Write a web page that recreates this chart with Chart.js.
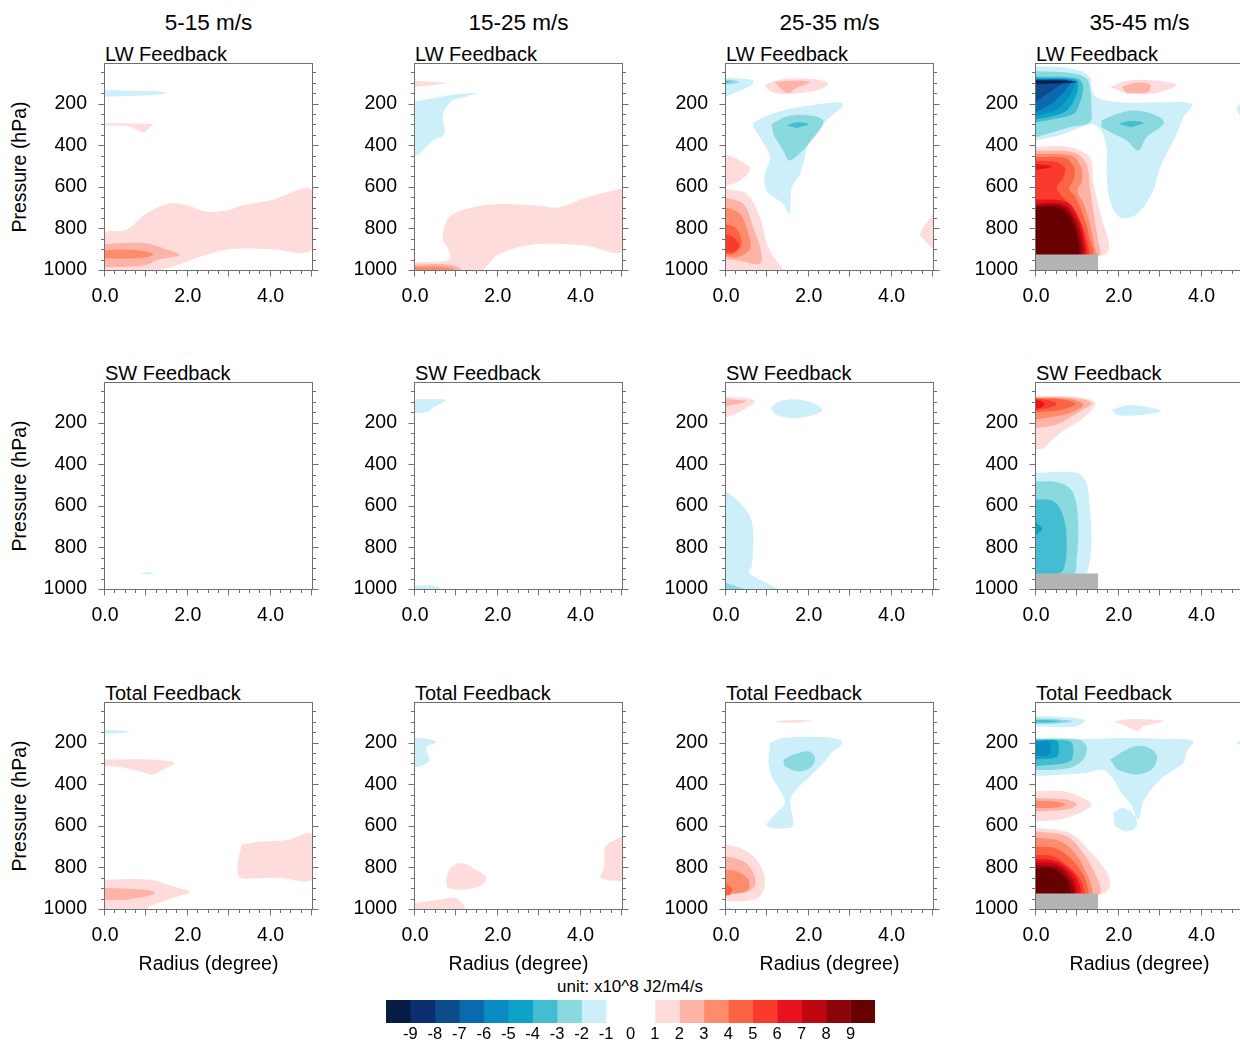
<!DOCTYPE html>
<html><head><meta charset="utf-8">
<script src="https://cdn.jsdelivr.net/npm/chart.js@4.4.1/dist/chart.umd.min.js"></script>
<style>
html,body{margin:0;padding:0;background:#fff;}
#fig{position:relative;width:1240px;height:1042px;overflow:hidden;font-family:'Liberation Sans',Arial,Helvetica,sans-serif;color:#000;}
.t{position:absolute;white-space:nowrap;line-height:1;}
canvas{position:absolute;}
</style></head><body><div id="fig"></div>
<script>
// ---------- categories / labels ----------
const speedBins = ['5-15 m/s', '15-25 m/s', '25-35 m/s', '35-45 m/s'];
const feedbackTypes = ['LW Feedback', 'SW Feedback', 'Total Feedback'];
const xAxisTitle = 'Radius (degree)';
const yAxisTitle = 'Pressure (hPa)';
const unitText = 'unit: x10^8 J2/m4/s';

// ---------- tick values ----------
const radiusTickLabels = [0, 2, 4];
const radiusMajorTicks = [0, 1, 2, 3, 4, 5];
const radiusMinorTicks = [0.25,0.5,0.75,1.25,1.5,1.75,2.25,2.5,2.75,3.25,3.5,3.75,4.25,4.5,4.75];
const pressureTickLabels = [200, 400, 600, 800, 1000];
const pressureMinorTicks = [50,100,150,250,300,350,450,500,550,650,700,750,850,900,950];

// ---------- colour bar ----------
const cbLevels = [-9,-8,-7,-6,-5,-4,-3,-2,-1,0,1,2,3,4,5,6,7,8,9];
const cbBounds = [-10,-9,-8,-7,-6,-5,-4,-3,-2,-1,0,1,2,3,4,5,6,7,8,9,10];
const cbColors = ['#061c45','#0b2f6e','#0a4c8c','#0b69ad','#0a8cc2','#0ca3c6','#44bcd2','#8ad9de','#cdeffa','#ffffff',
                  '#ffffff','#ffdcdc','#ffb3a6','#fd8c6c','#fc6343','#fa3a2c','#e8121e','#bd0812','#8c050b','#670000'];

// ---------- contour regions: [radius (deg), pressure (hPa)]; lvl = threshold exceeded ----------
const lw_5_15 = [
 {lvl:-1, pts:[[0,135],[0.6,138],[1.2,141],[1.5,148],[1.2,158],[0.6,164],[0,167]]},
 {lvl:1, pts:[[0,295],[0.6,296],[1.16,300],[1.1,312],[0.95,338],[0.8,330],[0.6,310],[0,305]]},
 {lvl:1, pts:[[0,1000],[0,824],[0.5,808],[1.0,728],[1.56,680],[1.96,688],[2.45,720],[3.0,712],[3.25,693],[4.0,665],[5,615],[5,900],[4.0,900],[3.0,900],[2.3,936],[1.64,984],[1.3,1000]]},
 {lvl:2, pts:[[0,875],[0.5,870],[1.0,872],[1.4,895],[1.8,928],[1.3,950],[1.0,975],[0.5,985],[0,985]]},
 {lvl:3, pts:[[0,905],[0.5,902],[0.95,910],[1.16,925],[0.95,940],[0.5,945],[0,943]]}
];
const lw_15_25 = [
 {lvl:1, pts:[[0,90],[0.4,95],[0.75,102],[0.4,112],[0,120]]},
 {lvl:-1, pts:[[0,190],[0.5,172],[1.0,155],[1.47,150],[1.2,168],[0.9,185],[0.67,258],[0.71,346],[0.43,378],[0.1,442],[0,450]]},
 {lvl:1, pts:[[0,1000],[0,965],[0.6,960],[0.85,945],[0.8,900],[0.67,843],[0.83,747],[1.23,707],[2.04,683],[3.0,691],[3.48,699],[4.13,651],[4.77,619],[5,616],[5,907],[4.13,883],[3.0,875],[2.04,923],[1.65,1000]]},
 {lvl:2, pts:[[0,975],[0.7,972],[1.05,985],[1.1,1000],[0,1000]]},
 {lvl:3, pts:[[0,985],[0.6,984],[0.9,992],[0.95,1000],[0,1000]]}
];
const lw_25_35 = [
 {lvl:-1, pts:[[0,77],[0.35,80],[0.66,90],[0.62,110],[0.34,138],[0,167]]},
 {lvl:-2, pts:[[0,84],[0.25,90],[0.3,96],[0.15,106],[0,108]]},
 {lvl:-3, pts:[[0,90],[0.12,94],[0,100]]},
 {lvl:1, pts:[[0.94,110],[1.3,86],[1.9,80],[2.47,100],[2.3,130],[1.7,152],[1.2,150],[1.0,130]]},
 {lvl:2, pts:[[1.18,95],[1.6,90],[2.03,96],[1.7,125],[1.5,150],[1.3,125]]},
 {lvl:-1, pts:[[0.66,290],[1.22,242],[2.03,210],[2.75,194],[2.83,210],[2.43,282],[2.03,378],[1.79,538],[1.59,603],[1.53,731],[1.38,683],[0.98,619],[0.94,538],[1.06,458],[0.82,362],[0.66,314]]},
 {lvl:-2, pts:[[1.1,298],[1.47,262],[2.03,257],[2.35,282],[2.19,346],[1.55,474],[1.38,426],[1.14,346]]},
 {lvl:-3, pts:[[1.47,306],[1.71,290],[1.99,298],[1.71,318]]},
 {lvl:1, pts:[[0,443],[0.34,475],[0.58,515],[0.34,571],[0,595]]},
 {lvl:1, pts:[[0,611],[0.5,635],[0.82,747],[1.02,891],[1.3,979],[1.38,1000],[0,1000]]},
 {lvl:2, pts:[[0,651],[0.42,683],[0.66,795],[0.86,923],[0.82,971],[0.34,955],[0,947]]},
 {lvl:3, pts:[[0,699],[0.34,731],[0.54,827],[0.58,899],[0.26,939],[0,935]]},
 {lvl:4, pts:[[0,779],[0.26,803],[0.38,875],[0.18,923],[0,923]]},
 {lvl:5, pts:[[0,827],[0.18,843],[0.32,883],[0.18,915],[0,915]]},
 {lvl:1, pts:[[5,731],[4.69,827],[4.81,859],[5,899]]}
];
const lw_35_45 = [
 {lvl:-1, pts:[[0,22],[0.6,26],[1.1,45],[1.32,80],[1.34,122],[1.47,170],[2.03,194],[3.0,194],[3.76,202],[3.56,266],[3.4,346],[3.0,506],[2.83,618],[2.44,731],[2.03,747],[1.79,667],[1.71,540],[1.71,426],[1.58,330],[1.34,300],[0.66,346],[0,378]]},
 {lvl:-1, pts:[[5,195],[4.85,215],[4.9,250],[5,270]]},
 {lvl:-2, pts:[[0,45],[0.9,55],[1.22,80],[1.3,120],[1.34,218],[1.3,290],[0.82,314],[0,362]]},
 {lvl:-2, pts:[[1.58,282],[1.95,250],[2.43,234],[3.0,266],[3.08,298],[2.67,362],[2.47,426],[2.19,378],[1.79,338],[1.58,314]]},
 {lvl:-3, pts:[[2.0,298],[2.25,284],[2.6,292],[2.3,314]]},
 {lvl:-3, pts:[[0,70],[1.0,80],[1.14,120],[1.05,200],[0.9,250],[0.4,275],[0,290]]},
 {lvl:-4, pts:[[0,78],[0.95,86],[1.02,120],[0.9,190],[0.7,240],[0.3,265],[0,275]]},
 {lvl:-5, pts:[[0,82],[0.9,88],[0.92,120],[0.75,180],[0.5,230],[0,260]]},
 {lvl:-6, pts:[[0,84],[0.85,88],[0.8,115],[0.55,170],[0.3,210],[0,240]]},
 {lvl:-7, pts:[[0,86],[0.8,90],[0.6,110],[0.3,150],[0,190]]},
 {lvl:-8, pts:[[0,88],[0.7,90],[1.0,96],[0.6,104],[0,108]]},
 {lvl:-9, pts:[[0,90],[0.5,92],[0.8,96],[0.5,100],[0,102]]},
 {lvl:1, pts:[[1.79,120],[2.2,90],[2.8,88],[3.4,110],[2.9,150],[2.2,154]]},
 {lvl:2, pts:[[2.07,120],[2.4,100],[2.75,108],[2.7,145],[2.2,150]]},
 {lvl:1, pts:[[0,407],[0.82,410],[1.3,458],[1.38,570],[1.58,747],[1.75,859],[1.75,907],[1.6,930],[0,930]]},
 {lvl:2, pts:[[0,426],[0.9,434],[1.22,490],[1.3,602],[1.42,763],[1.5,859],[1.52,930],[0,930]]},
 {lvl:3, pts:[[0,442],[0.85,450],[1.1,510],[1.1,580],[1.0,620],[1.15,680],[1.3,780],[1.42,891],[1.45,930],[0,930]]},
 {lvl:4, pts:[[0,458],[0.7,462],[0.92,510],[0.9,570],[0.8,610],[0.95,650],[1.15,740],[1.3,850],[1.35,930],[0,930]]},
 {lvl:5, pts:[[0,475],[0.5,482],[0.7,510],[0.65,560],[0.5,600],[0.6,640],[0.9,700],[1.1,780],[1.25,870],[1.25,930],[0,930]]},
 {lvl:6, pts:[[0,490],[0.4,503],[0,520]]},
 {lvl:6, pts:[[0,660],[0.75,675],[1.04,760],[1.18,860],[1.18,930],[0,930]]},
 {lvl:7, pts:[[0,680],[0.68,686],[0.98,760],[1.12,850],[1.12,930],[0,930]]},
 {lvl:8, pts:[[0,690],[0.62,694],[0.92,760],[1.06,850],[1.06,930],[0,930]]},
 {lvl:9, pts:[[0,699],[0.55,702],[0.85,760],[1.0,850],[1.0,930],[0,930]]}
];
const sw_5_15 = [
 {lvl:-1, pts:[[0.85,925],[1.0,919],[1.2,924],[1.0,930]]}
];
const sw_15_25 = [
 {lvl:-1, pts:[[0,88],[0.4,88],[0.75,92],[0.45,128],[0.3,148],[0,155]]},
 {lvl:-1, pts:[[0,985],[0.35,982],[0.6,995],[0.6,1000],[0,1000]]}
];
const sw_25_35 = [
 {lvl:1, pts:[[0,77],[0.5,82],[0.7,98],[0.5,130],[0,178]]},
 {lvl:2, pts:[[0,87],[0.5,98],[0,122]]},
 {lvl:-1, pts:[[1.08,130],[1.3,98],[1.79,90],[2.19,114],[2.33,141],[2.0,170],[1.53,178],[1.19,162]]},
 {lvl:-1, pts:[[0,530],[0.26,571],[0.58,651],[0.66,763],[0.62,891],[0.56,923],[0.98,971],[1.22,1000],[0,1000]]},
 {lvl:-2, pts:[[0,971],[0.42,1000],[0,1000]]}
];
const sw_35_45 = [
 {lvl:1, pts:[[0,74],[0.98,77],[1.43,106],[1.14,178],[0.58,250],[0.18,322],[0,330]]},
 {lvl:2, pts:[[0,77],[0.9,82],[1.35,106],[1.06,146],[0.5,210],[0,226]]},
 {lvl:3, pts:[[0,82],[0.82,87],[1.14,114],[0.82,154],[0,186]]},
 {lvl:4, pts:[[0,84],[0.6,88],[0.95,110],[0.6,140],[0,150]]},
 {lvl:5, pts:[[0,86],[0.35,95],[0.5,110],[0.3,130],[0,140]]},
 {lvl:6, pts:[[0,90],[0.15,100],[0.2,115],[0.1,130],[0,132]]},
 {lvl:-1, pts:[[1.83,138],[2.19,118],[2.59,122],[3.03,146],[2.59,162],[2.11,167],[1.91,160]]},
 {lvl:-1, pts:[[0,442],[0.98,442],[1.22,490],[1.3,618],[1.34,779],[1.26,907],[1.18,930],[0,930]]},
 {lvl:-2, pts:[[0,482],[0.58,490],[0.9,538],[1.02,699],[0.98,859],[0.9,930],[0,930]]},
 {lvl:-3, pts:[[0,570],[0.42,578],[0.66,651],[0.74,779],[0.66,907],[0.42,930],[0,930]]},
 {lvl:-4, pts:[[0,680],[0.15,710],[0,740]]}
];
const tot_5_15 = [
 {lvl:-1, pts:[[0,140],[0.3,142],[0.6,148],[0.3,155],[0,157]]},
 {lvl:1, pts:[[0,282],[1.08,282],[1.68,298],[1.4,330],[1.16,354],[0.84,338],[0.35,317],[0,314]]},
 {lvl:1, pts:[[3.3,690],[3.8,676],[4.4,668],[5,640],[5,856],[4.2,850],[3.6,852],[3.25,848],[3.2,780]]},
 {lvl:1, pts:[[0,859],[1.08,859],[1.64,891],[2.05,920],[1.64,947],[1.08,987],[1.0,1000],[0,1000]]},
 {lvl:2, pts:[[0,899],[1.0,907],[1.2,923],[1.0,939],[0.5,955],[0,955]]}
];
const tot_15_25 = [
 {lvl:-1, pts:[[0,178],[0.3,183],[0.51,199],[0.27,226],[0.35,282],[0.18,311],[0,317]]},
 {lvl:1, pts:[[0.75,859],[0.83,811],[1.11,779],[1.47,811],[1.73,851],[1.55,891],[1.15,907],[0.78,899]]},
 {lvl:1, pts:[[0,971],[0.59,955],[0.99,947],[1.19,1000],[0,1000]]},
 {lvl:1, pts:[[5,651],[4.61,699],[4.57,795],[4.49,851],[5,867]]}
];
const tot_25_35 = [
 {lvl:1, pts:[[1.18,98],[1.6,92],[2.07,95],[1.6,105],[1.2,103]]},
 {lvl:-1, pts:[[1.06,202],[1.38,178],[2.27,173],[2.75,186],[2.79,210],[2.59,242],[2.35,298],[2.03,362],[1.63,442],[1.55,490],[1.63,586],[1.55,610],[0.98,602],[1.14,554],[1.42,490],[1.34,442],[1.1,362],[1.02,298]]},
 {lvl:-2, pts:[[1.38,282],[1.63,258],[1.99,242],[2.15,274],[2.03,322],[1.71,338],[1.42,314]]},
 {lvl:1, pts:[[0,691],[0.34,707],[0.74,763],[0.94,859],[0.82,939],[0.42,963],[0,963]]},
 {lvl:2, pts:[[0,747],[0.42,771],[0.66,827],[0.7,891],[0.42,923],[0,931]]},
 {lvl:3, pts:[[0,811],[0.26,819],[0.54,859],[0.54,907],[0.26,923],[0,923]]},
 {lvl:4, pts:[[0,880],[0.15,900],[0.1,930],[0,935]]},
 {lvl:-1, pts:[[0,992],[0.1,995],[0.15,1000],[0,1000]]}
];
const tot_35_45 = [
 {lvl:-1, pts:[[0,74],[0.66,77],[1.18,93],[0.98,122],[0.42,125],[0,122]]},
 {lvl:-2, pts:[[0,85],[0.5,88],[0.9,98],[0.5,108],[0,110]]},
 {lvl:-3, pts:[[0,92],[0.4,94],[0.6,98],[0.4,102],[0,104]]},
 {lvl:1, pts:[[1.87,98],[2.35,87],[3.08,98],[2.59,122],[2.47,146],[2.19,122]]},
 {lvl:-1, pts:[[0,178],[1.22,183],[2.03,178],[3.16,183],[3.8,194],[3.64,242],[3.56,298],[3.0,378],[2.6,480],[2.47,570],[2.3,500],[2.05,440],[1.85,370],[1.6,330],[1.22,346],[0.66,354],[0,362]]},
 {lvl:-1, pts:[[1.87,538],[2.11,514],[2.39,554],[2.43,602],[2.19,627],[1.91,602]]},
 {lvl:-1, pts:[[5,190],[4.85,200],[5,215]]},
 {lvl:-2, pts:[[0,183],[1.02,186],[1.22,218],[1.14,282],[0.82,322],[0,333]]},
 {lvl:-2, pts:[[1.79,282],[2.27,226],[2.63,218],[2.91,258],[2.83,322],[2.43,354],[1.95,330]]},
 {lvl:-3, pts:[[0,186],[0.82,194],[0.9,234],[0.82,290],[0,314]]},
 {lvl:-4, pts:[[0,190],[0.5,192],[0.55,230],[0.5,270],[0,280]]},
 {lvl:-5, pts:[[0,195],[0.3,198],[0.35,230],[0.3,260],[0,265]]},
 {lvl:1, pts:[[0,434],[0.66,434],[1.14,466],[1.34,498],[1.06,538],[0.58,570],[0,578]]},
 {lvl:2, pts:[[0,466],[0.74,474],[0.98,498],[0.74,522],[0,530]]},
 {lvl:3, pts:[[0,480],[0.5,485],[0.7,498],[0.5,512],[0,515]]},
 {lvl:1, pts:[[0,610],[0.82,635],[1.34,731],[1.67,811],[1.79,875],[1.71,915],[1.55,930],[0,930]]},
 {lvl:2, pts:[[0,626],[0.74,650],[1.14,731],[1.42,827],[1.55,891],[1.52,930],[0,930]]},
 {lvl:3, pts:[[0,658],[0.58,674],[0.94,731],[1.22,827],[1.34,891],[1.34,930],[0,930]]},
 {lvl:4, pts:[[0,700],[0.5,710],[0.85,760],[1.15,840],[1.25,900],[1.25,930],[0,930]]},
 {lvl:5, pts:[[0,740],[0.4,745],[0.75,790],[1.05,850],[1.15,900],[1.15,930],[0,930]]},
 {lvl:6, pts:[[0,760],[0.5,770],[0.8,810],[1.0,860],[1.05,930],[0,930]]},
 {lvl:7, pts:[[0,775],[0.5,785],[0.8,830],[0.95,880],[0.95,930],[0,930]]},
 {lvl:8, pts:[[0,790],[0.5,800],[0.75,840],[0.9,890],[0.9,930],[0,930]]},
 {lvl:9, pts:[[0,800],[0.45,810],[0.7,850],[0.82,900],[0.8,930],[0,930]]}
];
// missing-data (below-surface) box in the strongest-wind column
const terrainMask = [[0,925],[1.5,925],[1.5,1000],[0,1000]];
const maskColor = '#b4b4b4';

const panelData = [
  [lw_5_15, lw_15_25, lw_25_35, lw_35_45],
  [sw_5_15, sw_15_25, sw_25_35, sw_35_45],
  [tot_5_15, tot_15_25, tot_25_35, tot_35_45]
];
const maskedColumn = 3;

// ---------- layout ----------
const colLeft = [105, 415, 726, 1036];
const rowTop = [64, 383, 703];
const PW = 207, PH = 206;
const AX_W = 72, AX_H = 44, PAD_T = 12, PAD_R = 14;
const FONT = "'Liberation Sans', Arial, Helvetica, sans-serif";

Chart.defaults.font.family = FONT;
Chart.defaults.color = '#000';

const fig = document.getElementById('fig');
function addText(txt, x, y, size, opts = {}) {
  const d = document.createElement('div');
  d.className = 't';
  d.textContent = txt;
  d.style.fontSize = size + 'px';
  d.style.left = x + 'px';
  d.style.top = y + 'px';
  let tf = opts.align === 'left' ? 'translate(0,-50%)' : 'translate(-50%,-50%)';
  if (opts.rotate) tf += ' rotate(-90deg)';
  d.style.transform = tf;
  fig.appendChild(d);
}

function levelColor(l) { return l > 0 ? cbColors[10 + l] : cbColors[9 + l]; }

const frameTicks = {
  id: 'frameTicks',
  afterDraw(chart) {
    const {ctx, chartArea: a, scales: {x, y}} = chart;
    ctx.save();
    ctx.strokeStyle = '#707070';
    ctx.lineWidth = 1;
    ctx.strokeRect(a.left - 0.5, a.top - 0.5, a.right - a.left + 1, a.bottom - a.top + 1);
    ctx.beginPath();
    const hy = (v, len) => {
      const py = Math.round(y.getPixelForValue(v)) + 0.5;
      ctx.moveTo(a.left - 0.5, py); ctx.lineTo(a.left - 0.5 - len, py);
      ctx.moveTo(a.right + 0.5, py); ctx.lineTo(a.right + 0.5 + len, py);
    };
    const vx = (v, len) => {
      const px = Math.round(x.getPixelForValue(v)) - 0.5;
      ctx.moveTo(px, a.bottom + 0.5); ctx.lineTo(px, a.bottom + 0.5 + len);
    };
    pressureTickLabels.forEach(v => hy(v, 6));
    pressureMinorTicks.forEach(v => hy(v, 3.5));
    radiusMajorTicks.forEach(v => vx(v, 6));
    radiusMinorTicks.forEach(v => vx(v, 3.5));
    ctx.stroke();
    ctx.restore();
  }
};

function makePanel(row, col) {
  const L = colLeft[col], T = rowTop[row];
  const cv = document.createElement('canvas');
  const W = AX_W + PW + PAD_R, H = PAD_T + PH + AX_H;
  cv.width = W; cv.height = H;
  cv.style.left = (L - AX_W) + 'px';
  cv.style.top = (T - PAD_T) + 'px';
  fig.appendChild(cv);
  const regions = panelData[row][col].map((c, i) => ({...c, i}))
    .sort((a, b) => Math.abs(a.lvl) - Math.abs(b.lvl) || a.i - b.i);
  const datasets = regions.map((c, k) => ({
    data: c.pts.map(([r, p]) => ({x: r, y: p})),
    showLine: true, fill: 'shape', tension: 0.35,
    backgroundColor: levelColor(c.lvl), borderColor: 'rgba(0,0,0,0)', borderWidth: 0,
    pointRadius: 0, order: 1000 - k
  }));
  if (col === maskedColumn) {
    datasets.push({
      data: terrainMask.map(([r, p]) => ({x: r, y: p})),
      showLine: true, fill: 'shape', tension: 0,
      backgroundColor: maskColor, borderColor: 'rgba(0,0,0,0)', borderWidth: 0,
      pointRadius: 0, order: -1
    });
  }
  new Chart(cv, {
    type: 'scatter',
    data: {datasets},
    options: {
      responsive: false, animation: false, events: [],
      layout: {padding: {left: 0, top: PAD_T, right: PAD_R, bottom: 0}},
      plugins: {legend: {display: false}, tooltip: {enabled: false}, title: {display: false}},
      scales: {
        x: {
          type: 'linear', min: 0, max: 5,
          afterBuildTicks: s => { s.ticks = radiusTickLabels.map(v => ({value: v})); },
          afterFit: s => { s.height = AX_H; s.paddingLeft = 0; s.paddingRight = 0; },
          grid: {display: false, drawTicks: false}, border: {display: false},
          ticks: {callback: v => Number(v).toFixed(1), padding: 15, maxRotation: 0, autoSkip: false, font: {size: 19.5}, color: '#000'}
        },
        y: {
          type: 'linear', reverse: true, min: 10, max: 1000,
          afterBuildTicks: s => { s.ticks = pressureTickLabels.map(v => ({value: v})); },
          afterFit: s => { s.width = AX_W; s.paddingTop = 0; s.paddingBottom = 0; },
          grid: {display: false, drawTicks: false}, border: {display: false},
          ticks: {callback: v => String(v), padding: 18, autoSkip: false, font: {size: 19.5}, color: '#000'}
        }
      }
    },
    plugins: [frameTicks]
  });
}

// ---------- texts ----------
speedBins.forEach((s, c) => addText(s, colLeft[c] + PW / 2, 23, 22.5));
for (let r = 0; r < 3; r++) {
  for (let c = 0; c < 4; c++) {
    addText(feedbackTypes[r], colLeft[c], rowTop[r] - 10, 20, {align: 'left'});
    makePanel(r, c);
  }
  addText(yAxisTitle, 20, rowTop[r] + PH / 2, 19.5, {rotate: true});
}
colLeft.forEach(L => addText(xAxisTitle, L + PW / 2, 964, 19.5));
addText(unitText, 630, 986, 17);

// ---------- colour bar ----------
(function () {
  const cbL = 386, cbR = 875, cbT = 1000, cbH = 23, PADX = 20, LAB_H = 24;
  const cv = document.createElement('canvas');
  cv.width = (cbR - cbL) + 2 * PADX; cv.height = cbH + LAB_H;
  cv.style.left = (cbL - PADX) + 'px'; cv.style.top = cbT + 'px';
  fig.appendChild(cv);
  const datasets = cbColors.map((col, i) => ({
    data: [[cbBounds[i], cbBounds[i + 1]]], backgroundColor: col, borderWidth: 0,
    grouped: false, barPercentage: 1, categoryPercentage: 1
  }));
  new Chart(cv, {
    type: 'bar',
    data: {labels: [''], datasets},
    options: {
      indexAxis: 'y', responsive: false, animation: false, events: [],
      layout: {padding: {left: PADX, right: PADX, top: 0, bottom: 0}},
      plugins: {legend: {display: false}, tooltip: {enabled: false}},
      scales: {
        x: {
          type: 'linear', min: cbBounds[0], max: cbBounds[cbBounds.length - 1],
          afterBuildTicks: s => { s.ticks = cbLevels.map(v => ({value: v})); },
          afterFit: s => { s.height = LAB_H; s.paddingLeft = 0; s.paddingRight = 0; },
          grid: {display: false, drawTicks: false}, border: {display: false},
          ticks: {callback: v => String(v), padding: 2, autoSkip: false, maxRotation: 0, font: {size: 16.5}, color: '#000'}
        },
        y: {display: false}
      }
    }
  });
})();
</script></body></html>
